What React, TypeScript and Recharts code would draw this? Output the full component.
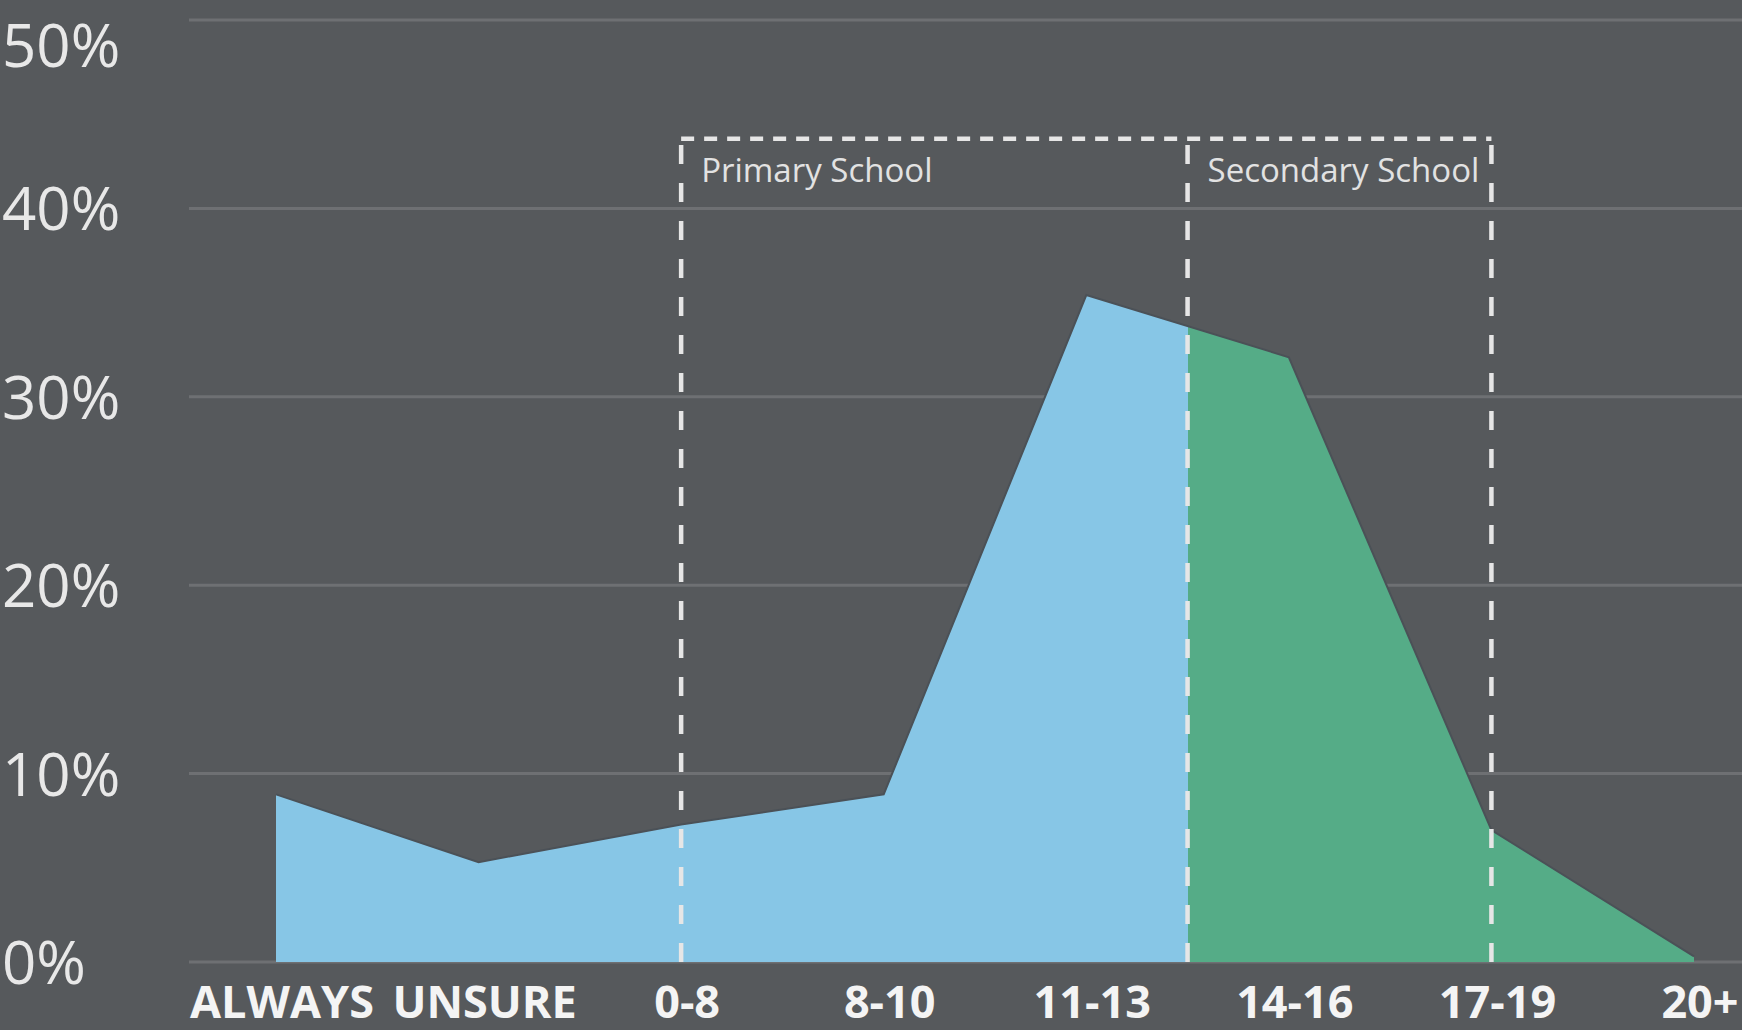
import React from 'react';
import { AreaChart, Area, XAxis, YAxis, CartesianGrid, ReferenceLine, ReferenceArea } from 'recharts';

const categories = ['ALWAYS', 'UNSURE', '0-8', '8-10', '11-13', '14-16', '17-19', '20+'];
const shares = [8.9, 5.3, 7.3, 8.9, 35.4, 32.1, 7.0, 0.3];
const yTicks = [0, 10, 20, 30, 40, 50];
// school brackets, in category index units (4.5 = between 11-13 and 14-16)
const bandNames = ['Primary School', 'Secondary School'];
const bandEdges = [2, 4.5, 6];
const bracketTop = 43.7;

const BG = '#56595c';
const BLUE = '#87c6e6';
const GREEN = '#55ac87';
const DASH = '#e6e6e6';

const data = categories.map((name, i) => ({ idx: i, name, value: shares[i] }));
const splitAt = bandEdges[1] / (categories.length - 1);

const YTick = (props: any) => {
  const { y, payload } = props;
  // top label is pushed down so it stays inside the picture
  const cy = Math.max(y, 45);
  return <text x={2} y={cy} dy={22} fill="#e8e8e8" fontSize={60} fontFamily="'Open Sans', sans-serif" textAnchor="start">
      {payload.value}%
    </text>;
};

const XTick = (props: any) => {
  const { x, y, payload } = props;
  return <text x={x + 6} y={y} dy={56} fill="#f4f4f4" fontSize={45} fontWeight={700} fontFamily="'Open Sans', sans-serif" textAnchor="middle">
      {categories[payload.value]}
    </text>;
};

const App: React.FC = () => {
  return <div style={{ position: 'absolute', left: 0, top: 0, width: 1742, height: 1030, background: BG, overflow: 'hidden' }}>
      <AreaChart width={1742} height={1030} data={data} margin={{ top: 20, right: 0, left: 0, bottom: 0 }}>
        <defs>
          <linearGradient id="schoolSplit" x1="0" y1="0" x2="1" y2="0">
            <stop offset={splitAt} stopColor={BLUE} />
            <stop offset={splitAt} stopColor={GREEN} />
          </linearGradient>
        </defs>
        <CartesianGrid vertical={false} stroke="#6e7073" strokeWidth={3} />
        <XAxis dataKey="idx" type="number" domain={[0, categories.length - 1]} ticks={categories.map((_, i) => i)} interval={0} padding={{ left: 87, right: 48 }} axisLine={false} tickLine={false} tickSize={0} tickMargin={0} height={68} tick={<XTick />} />
        <YAxis domain={[0, 50]} ticks={yTicks} width={189} axisLine={false} tickLine={false} tick={<YTick />} />
        <Area type="linear" dataKey="value" stroke="#4b5157" strokeWidth={2} fill="url(#schoolSplit)" fillOpacity={1} isAnimationActive={false} />
        {bandNames.map((name, i) => <ReferenceArea key={name} x1={bandEdges[i]} x2={bandEdges[i + 1]} y1={0} y2={bracketTop} fill="none" fillOpacity={0} strokeWidth={0} label={{ value: name, position: 'insideTopLeft', offset: 20, fill: '#e2e2e2', fontSize: 33, fontFamily: "'Open Sans', sans-serif" }} />)}
        {bandEdges.map(e => <ReferenceLine key={e} segment={[{ x: e, y: 0 }, { x: e, y: bracketTop }]} stroke={DASH} strokeWidth={4.5} strokeDasharray="19 19" />)}
        <ReferenceLine segment={[{ x: bandEdges[0], y: bracketTop }, { x: bandEdges[2], y: bracketTop }]} stroke={DASH} strokeWidth={4.5} strokeDasharray="13 10" />
      </AreaChart>
    </div>;
};

export default App;
